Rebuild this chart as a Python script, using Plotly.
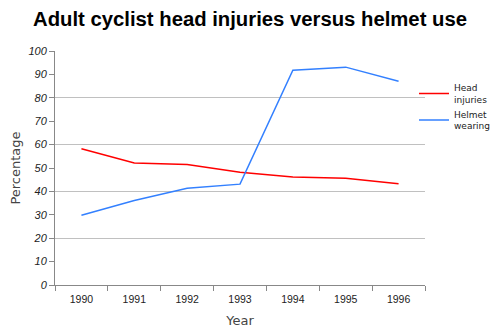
import plotly.graph_objects as go

years = ["1990", "1991", "1992", "1993", "1994", "1995", "1996"]
head_injuries = [58.2, 52.1, 51.5, 48.2, 46.2, 45.6, 43.3]
helmet_wearing = [29.8, 36.1, 41.3, 43.1, 91.8, 93.1, 87.1]

fig = go.Figure()
# invisible trace so the grid axis (every 20) is drawn
fig.add_trace(go.Scatter(x=years, y=head_injuries, mode="lines", yaxis="y2",
                         line=dict(width=0, color="rgba(0,0,0,0)"), showlegend=False,
                         hoverinfo="skip"))
fig.add_trace(go.Scatter(x=years, y=head_injuries, mode="lines", name="Head<br>injuries",
                         line=dict(color="#ff0000", width=1.5)))
fig.add_trace(go.Scatter(x=years, y=helmet_wearing, mode="lines", name="Helmet<br>wearing",
                         line=dict(color="#3380ff", width=1.5)))

fig.update_layout(
    width=500, height=335,
    margin=dict(l=55, r=75, t=51, b=50, autoexpand=False),
    paper_bgcolor="white", plot_bgcolor="white",
    title=dict(text="<b>Adult cyclist head injuries versus helmet use</b>",
               x=0.5, xanchor="center", y=0.943, yanchor="middle",
               font=dict(family="Liberation Sans, Arial, sans-serif", size=20.3, color="black")),
    font=dict(family="DejaVu Sans, sans-serif", color="#333333"),
    legend=dict(x=0.828, xref="container", xanchor="left", y=0.775, yref="container", yanchor="top",
                font=dict(size=9, color="#222222"), tracegroupgap=4, itemwidth=30,
                bgcolor="rgba(0,0,0,0)"),
    showlegend=True,
    yaxis2=dict(overlaying="y", side="left", range=[0, 100], dtick=20, tick0=0,
                showgrid=True, gridcolor="#c0c0c0", gridwidth=1,
                showticklabels=False, ticks="", showline=False, zeroline=False),
)
fig.update_xaxes(
    type="category", range=[-0.5, 6.5], tickson="boundaries",
    showline=True, linecolor="#888888", linewidth=1,
    ticks="outside", ticklen=5, tickcolor="#888888",
    showgrid=False, zeroline=False, ticklabelstandoff=4,
    tickfont=dict(size=10.5, color="#222222", family="Liberation Sans, Arial, sans-serif"),
    title=dict(text="Year", font=dict(size=13, color="#444444"), standoff=12),
)
fig.update_layout(yaxis=dict(
    range=[0, 100], dtick=10, tick0=0,
    showline=True, linecolor="#888888", linewidth=1,
    ticks="outside", ticklen=5, tickcolor="#888888",
    showgrid=False, zeroline=False,
    tickfont=dict(size=11, color="#222222", family="Liberation Sans, Arial, sans-serif"),
    tickprefix="<i>", ticksuffix="</i>",
    title=dict(text="Percentage", font=dict(size=13, color="#444444"), standoff=4),
))

fig.write_html("out.html")
